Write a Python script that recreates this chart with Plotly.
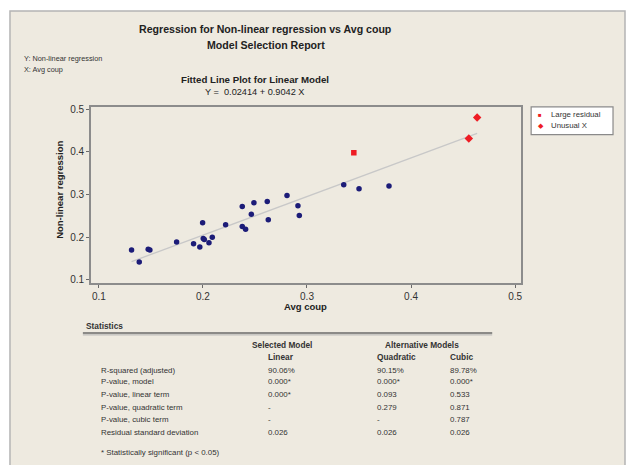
import plotly.graph_objects as go

# ---------------- data ----------------
avg_coup = [0.1314, 0.1388, 0.1474, 0.1490, 0.1747, 0.1910, 0.1970, 0.1997,
            0.2003, 0.2013, 0.2058, 0.2090, 0.2218, 0.2378, 0.2378, 0.2410,
            0.2465, 0.2490, 0.2618, 0.2628, 0.2808, 0.2913, 0.2926, 0.3353,
            0.3500, 0.3788]
nonlin_reg = [0.170, 0.142, 0.172, 0.170, 0.189, 0.185, 0.177, 0.234,
              0.197, 0.195, 0.187, 0.200, 0.229, 0.272, 0.225, 0.219,
              0.254, 0.281, 0.284, 0.241, 0.2975, 0.274, 0.251, 0.323,
              0.3136, 0.320]
large_resid_x = [0.345]
large_resid_y = [0.398]
unusual_x_x = [0.4555, 0.4635]
unusual_x_y = [0.431, 0.4806]
intercept = 0.02414
slope = 0.9042

x_ticks = [0.1, 0.2, 0.3, 0.4, 0.5]
y_ticks = [0.1, 0.2, 0.3, 0.4, 0.5]

stat_rows = ["R-squared (adjusted)", "P-value, model", "P-value, linear term",
             "P-value, quadratic term", "P-value, cubic term",
             "Residual standard deviation"]
linear_vals = ["90.06%", "0.000*", "0.000*", "-", "-", "0.026"]
quadratic_vals = ["90.15%", "0.000*", "0.093", "0.279", "-", "0.026"]
cubic_vals = ["89.78%", "0.000*", "0.533", "0.871", "0.787", "0.026"]

# ---------------- helpers ----------------
W, H = 627, 465
FONT = "Liberation Sans"


def px(x):
    return x / W


def py(y):
    return 1 - y / H


annotations = []


def txt(x, y, text, size=8, bold=False, anchor="left", color="#333333", angle=0):
    if bold:
        text = "<b>" + text + "</b>"
    annotations.append(dict(
        x=px(x), y=py(y), xref="paper", yref="paper", text=text,
        showarrow=False, xanchor=anchor, yanchor="middle", textangle=angle,
        font=dict(family=FONT, size=size, color=color)))


fig = go.Figure()

all_x = avg_coup + large_resid_x + unusual_x_x
fx = [min(all_x), max(all_x)]
fy = [intercept + slope * v for v in fx]
fig.add_trace(go.Scatter(x=fx, y=fy, mode="lines",
                         line=dict(color="#c8c8c8", width=1.3), showlegend=False))
fig.add_trace(go.Scatter(x=avg_coup, y=nonlin_reg, mode="markers",
                         marker=dict(color="#1c1c78", size=5.5, symbol="circle"),
                         showlegend=False))
fig.add_trace(go.Scatter(x=large_resid_x, y=large_resid_y, mode="markers",
                         marker=dict(color="#ee1c24", size=5.5, symbol="square"),
                         showlegend=False))
fig.add_trace(go.Scatter(x=unusual_x_x, y=unusual_x_y, mode="markers",
                         marker=dict(color="#ee1c24", size=6.5, symbol="diamond"),
                         showlegend=False))

shapes = [
    # beige panel
    dict(type="rect", xref="paper", yref="paper", x0=px(10), x1=px(626),
         y0=py(472), y1=py(8), fillcolor="#eeeae0",
         line=dict(color="#b4b4b4", width=1.5), layer="below"),
    # legend box
    dict(type="rect", xref="paper", yref="paper", x0=px(532), x1=px(614),
         y0=py(133), y1=py(105), fillcolor="white",
         line=dict(color="#8a8a8a", width=1.2)),
    # statistics rule
    dict(type="line", xref="paper", yref="paper", x0=px(83), x1=px(493),
         y0=py(333.5), y1=py(333.5), line=dict(color="#6a6a6a", width=1.5)),
    dict(type="line", xref="paper", yref="paper", x0=px(83), x1=px(493),
         y0=py(335.5), y1=py(335.5), line=dict(color="#b0b0b0", width=1)),
]

# titles
txt(266, 26, "Regression for Non-linear regression vs Avg coup", 10.6, True, "center", "#222222")
txt(266, 42, "Model Selection Report", 10.6, True, "center", "#222222")
txt(22, 56, "Y: Non-linear regression", 7.3)
txt(22, 67, "X: Avg coup", 7.3)
txt(255, 77, "Fitted Line Plot for Linear Model", 9.7, True, "center", "#222222")
txt(255, 90, "Y =  0.02414 + 0.9042 X", 9.2, False, "center", "#222222")

# axis titles
txt(306, 307, "Avg coup", 9.5, True, "center", "#222222")
annotations.append(dict(x=px(60), y=py(189), xref="paper", yref="paper",
                        text="<b>Non-linear regression</b>", showarrow=False,
                        xanchor="center", yanchor="middle", textangle=-90,
                        font=dict(family=FONT, size=9.5, color="#222222")))

# legend
txt(537, 113, "<span style='color:#ee1c24'>■</span>", 6, False, "left")
txt(550, 113, "Large residual", 7.8)
txt(537, 124, "<span style='color:#ee1c24'>◆</span>", 6.5, False, "left")
txt(550, 124, "Unusual X", 7.8)

# statistics table
txt(84, 327, "Statistics", 8.3, True)
txt(282, 346, "Selected Model", 8.3, True, "center")
txt(423, 346, "Alternative Models", 8.3, True, "center")
txt(266, 358, "Linear", 8.3, True)
txt(376, 358, "Quadratic", 8.3, True)
txt(449, 358, "Cubic", 8.3, True)
row_y = [371, 383, 396, 408.5, 421, 434]
for i, lab in enumerate(stat_rows):
    txt(99, row_y[i], lab, 7.9)
    txt(266, row_y[i], linear_vals[i], 7.9)
    txt(376, row_y[i], quadratic_vals[i], 7.9)
    txt(449, row_y[i], cubic_vals[i], 7.9)
txt(99, 454, "* Statistically significant (p &lt; 0.05)", 7.9)

axis_common = dict(showgrid=False, zeroline=False, showline=True, mirror=True,
                   linecolor="#8c8c8c", linewidth=1.5, ticks="outside",
                   ticklen=3, tickwidth=1, tickcolor="#6a6a6a",
                   tickfont=dict(family=FONT, size=10, color="#333333"))

fig.update_layout(
    width=W, height=H, margin=dict(l=0, r=0, t=0, b=0),
    paper_bgcolor="white", plot_bgcolor="white",
    xaxis=dict(domain=[px(91), px(522)], range=[0.0923, 0.5058],
               tickvals=x_ticks, ticktext=[str(v) for v in x_ticks], **axis_common),
    yaxis=dict(domain=[py(283), py(105)], range=[0.093, 0.5053],
               tickvals=y_ticks, ticktext=[str(v) for v in y_ticks], **axis_common),
    shapes=shapes, annotations=annotations, showlegend=False,
)

fig.write_html("out.html", config={"displayModeBar": False},
               post_script="document.body.style.margin='0';document.body.style.overflow='hidden';")
